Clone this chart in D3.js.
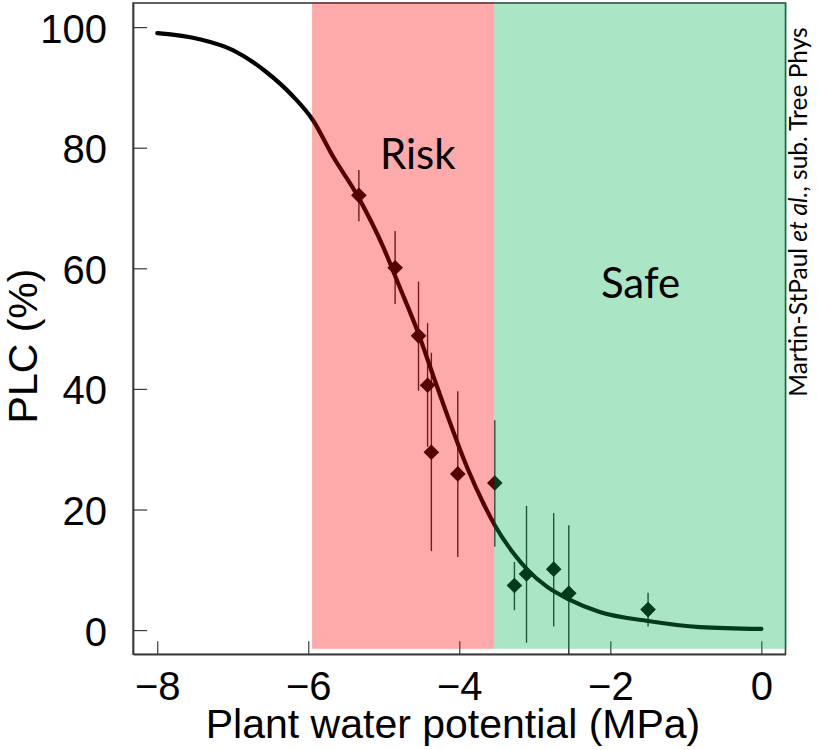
<!DOCTYPE html>
<html>
<head>
<meta charset="utf-8">
<script src="https://cdn.jsdelivr.net/npm/d3@7"></script>
<style>
  html, body { margin: 0; padding: 0; background: #fff; }
  svg { display: block; }
</style>
</head>
<body>
<svg id="chart" width="817" height="750"></svg>
<script>
// ---- data ----
const curveX   = [-8, -7.44, -7.0, -6.56, -6.2, -5.94, -5.67, -5.36, -5.01, -4.79, -4.56, -4.34, -4.12, -3.90, -3.68, -3.53, -3.28, -3.09, -2.84, -2.55, -2.14, -1.50, -0.81, 0];
const curvePLC = [99.0, 98.0, 96.2, 92.6, 88.5, 84.6, 78.5, 72.3, 63.6, 56.9, 49.8, 42.0, 34.3, 27.1, 21.0, 17.4, 12.7, 9.9, 7.2, 5.1, 3.0, 1.5, 0.5, 0.2];

const pointX   = [-5.33, -4.85, -4.54, -4.42, -4.37, -4.02, -3.53, -3.27, -3.11, -2.75, -2.55, -1.50];
const pointPLC = [72.1, 60.1, 48.8, 40.6, 29.5, 25.9, 24.4, 7.4, 9.3, 10.1, 6.1, 3.4];
const errHigh  = [76.3, 66.2, 57.8, 50.9, 46.0, 39.6, 34.8, 11.3, 20.6, 19.4, 17.4, 6.2];
const errLow   = [67.8, 54.1, 39.7, 30.4, 13.1, 12.1, 13.8, 3.3, -2.1, 0.6, -4.0, 0.6];

const xTicks = [-8, -6, -4, -2, 0];
const yTicks = [0, 20, 40, 60, 80, 100];

const zones = [
  { name: "Risk", from: -5.95, to: -3.54, color: "#ff0000", labelX: -4.55, labelY: 76.5 },
  { name: "Safe", from: -3.54, to: 0.335, color: "#00b050", labelX: -1.6, labelY: 55.0 }
];
const credit = ["Martin-StPaul ", "et al.", ", sub. Tree Phys"];

// ---- layout ----
const svg = d3.select("#chart");
const x = d3.scaleLinear().domain([-8.32, 0.32]).range([133.1, 785.5]);
const y = d3.scaleLinear().domain([-4, 104]).range([654.2, 3]);

const axisColor = "#3a3a3a";
const tickFont = "'Liberation Sans', Arial, Helvetica, sans-serif";

// box
svg.append("rect")
  .attr("x", x(-8.32)).attr("y", y(104))
  .attr("width", x(0.32) - x(-8.32)).attr("height", y(-4) - y(104))
  .attr("fill", "none").attr("stroke", axisColor).attr("stroke-width", 1.6);

// x axis (ticks inward)
const xAxis = d3.axisBottom(x).tickValues(xTicks).tickSizeInner(-13).tickSizeOuter(0).tickPadding(0);
const gx = svg.append("g").attr("transform", `translate(0,${y(-4)})`).call(xAxis);
gx.select(".domain").attr("stroke", axisColor).attr("stroke-width", 1.6);
gx.selectAll(".tick line").attr("stroke", axisColor).attr("stroke-width", 1.2);
gx.selectAll(".tick text")
  .attr("y", 46).attr("dy", null)
  .attr("font-family", tickFont).attr("font-size", 40).attr("fill", "#000");

// y axis (ticks inward)
const yAxis = d3.axisLeft(y).tickValues(yTicks).tickSizeInner(-14).tickSizeOuter(0).tickPadding(0);
const gy = svg.append("g").attr("transform", `translate(${x(-8.32)},0)`).call(yAxis);
gy.select(".domain").attr("stroke", axisColor).attr("stroke-width", 1.6);
gy.selectAll(".tick line").attr("stroke", axisColor).attr("stroke-width", 1.2);
gy.selectAll(".tick text")
  .attr("x", -26).attr("dy", null).attr("y", 15)
  .attr("text-anchor", "end")
  .attr("font-family", tickFont).attr("font-size", 40).attr("fill", "#000");

// axis titles
svg.append("text")
  .attr("x", 453).attr("y", 738)
  .attr("text-anchor", "middle")
  .attr("font-family", tickFont).attr("font-size", 41).attr("fill", "#000")
  .text("Plant water potential (MPa)");
svg.append("text")
  .attr("transform", "translate(37,346) rotate(-90)")
  .attr("text-anchor", "middle")
  .attr("font-family", tickFont).attr("font-size", 41).attr("fill", "#000")
  .text("PLC (%)");

// error bars
const idx = d3.range(pointX.length);
svg.append("g").selectAll("line").data(idx).join("line")
  .attr("x1", i => x(pointX[i])).attr("x2", i => x(pointX[i]))
  .attr("y1", i => y(errHigh[i])).attr("y2", i => y(Math.max(errLow[i], -4)))
  .attr("stroke", "#2a2a2a").attr("stroke-width", 1.4);

// fitted curve
const line = d3.line().x(d => x(d[0])).y(d => y(d[1])).curve(d3.curveMonotoneX);
svg.append("path")
  .datum(curveX.map((v, i) => [v, curvePLC[i]]))
  .attr("d", line)
  .attr("fill", "none").attr("stroke", "#000").attr("stroke-width", 4.2).attr("stroke-linecap", "round");

// diamond markers
const diamond = d3.symbol().type(d3.symbolSquare).size(122);
svg.append("g").selectAll("path").data(idx).join("path")
  .attr("d", diamond)
  .attr("transform", i => `translate(${x(pointX[i])},${y(pointPLC[i])}) rotate(45)`)
  .attr("fill", "#000");

// translucent zones overlay
svg.append("g").selectAll("rect").data(zones).join("rect")
  .attr("x", d => x(d.from)).attr("width", d => x(d.to) - x(d.from))
  .attr("y", y(104) - 0.5).attr("height", y(-3.1) - y(104) + 0.5)
  .attr("fill", d => d.color).attr("fill-opacity", 0.335);

// zone labels
const labelFont = "Lato, 'Open Sans', 'Noto Sans', sans-serif";
svg.append("g").selectAll("text").data(zones).join("text")
  .attr("x", d => x(d.labelX)).attr("y", d => y(d.labelY))
  .attr("text-anchor", "middle")
  .attr("font-family", labelFont).attr("font-size", 42).attr("fill", "#000")
  .text(d => d.name);

// credit
const ct = svg.append("text")
  .attr("transform", "translate(807,212) rotate(-90)")
  .attr("text-anchor", "middle")
  .attr("font-family", labelFont).attr("font-size", 24.5).attr("fill", "#000");
ct.append("tspan").text(credit[0]);
ct.append("tspan").attr("font-style", "italic").text(credit[1]);
ct.append("tspan").text(credit[2]);
</script>
</body>
</html>
